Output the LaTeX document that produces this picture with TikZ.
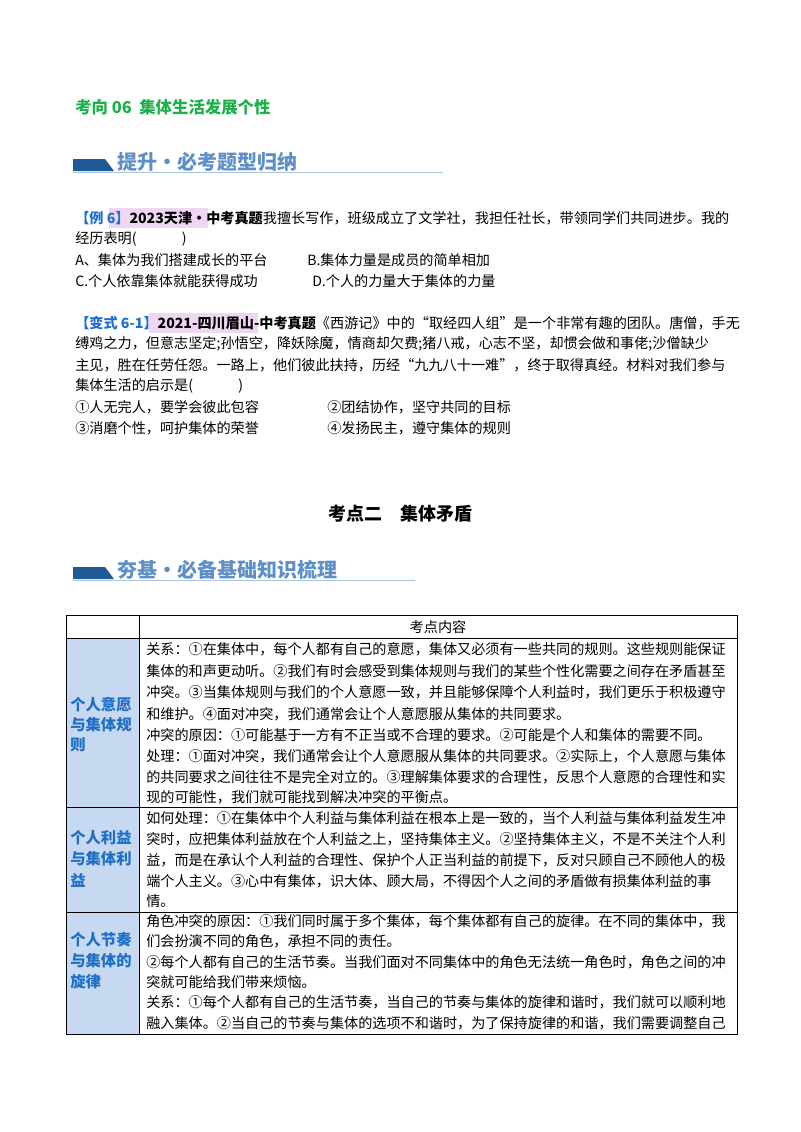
\documentclass[tikz,border=0pt]{standalone}
\usepackage{fontspec}
\setmainfont{Noto Sans CJK SC}
\usetikzlibrary{positioning}
\definecolor{titlegreen}{HTML}{1DB04B}
\definecolor{bannerdark}{HTML}{1F5A96}
\definecolor{bannertext}{HTML}{5E8FC6}
\definecolor{bannerline}{HTML}{A9C3DC}
\definecolor{tagblue}{HTML}{1E6FD0}
\definecolor{markpink}{HTML}{EFD6F3}
\definecolor{cellblue}{HTML}{C6D9F0}
\definecolor{labelblue}{HTML}{1F6FC6}
\newcommand{\tg}[1]{\textcolor{tagblue}{\textbf{#1}}}
\tikzset{
  txt/.style={anchor=west,inner sep=0pt,font=\fontsize{10.6}{12}\selectfont},
  lbl/.style={anchor=west,inner sep=0pt,labelblue,font=\fontsize{11.5}{12}\bfseries},
  banner/.style={anchor=west,inner sep=0pt,bannertext,font=\fontsize{15}{16}\bfseries}
}
\begin{document}
\begin{tikzpicture}[x=0.75pt,y=-0.75pt]
  \useasboundingbox[fill=white] (0,0) rectangle (800,1132);
  % heading
  \node[anchor=west,inner sep=0pt,titlegreen,font=\fontsize{12.3}{14}\bfseries] (head) at (75,107) {考向 06\ \ 集体生活发展个性};
  % banner 1
  \fill[bannerdark] (73,171) -- (73,159) -- (105,159) -- (114,171) -- cycle;
  \draw[bannerline,line width=1pt] (73,172.5) -- (443,172.5);
  \node[banner] (ban1) at (117,162) {提升·必考题型归纳};
  % example 6
  \fill[markpink] (109,208) rectangle (208,228);
  \node[txt] (e1) at (75,218) {\tg{【例 6】}\textbf{2023天津·中考真题}我擅长写作，班级成立了文学社，我担任社长，带领同学们共同进步。我的};
  \node[txt] (e2) at (75,239) {经历表明(\hspace{3.2em})};
  \node[txt] (e3) at (75,260) {A、集体为我们搭建成长的平台};
  \node[txt] (e4) at (307,260) {B.集体力量是成员的简单相加};
  \node[txt] (e5) at (75,281) {C.个人依靠集体就能获得成功};
  \node[txt] (e6) at (312,281) {D.个人的力量大于集体的力量};
  % variant 6-1
  \fill[markpink] (149,313) rectangle (258,333);
  \node[txt] (v1) at (75,323) {\tg{【变式 6-1】}\textbf{2021-四川眉山-中考真题}《西游记》中的“取经四人组”是一个非常有趣的团队。唐僧，手无};
  \node[txt] (v2) at (75,344) {缚鸡之力，但意志坚定;孙悟空，降妖除魔，情商却欠费;猪八戒，心志不坚，却惯会做和事佬;沙僧缺少};
  \node[txt] (v3) at (75,365) {主见，胜在任劳任怨。一路上，他们彼此扶持，历经“九九八十一难”，终于取得真经。材料对我们参与};
  \node[txt] (v4) at (75,386) {集体生活的启示是(\hspace{3.2em})};
  \node[txt] (v5) at (75,407) {①人无完人，要学会彼此包容};
  \node[txt] (v6) at (327,407) {②团结协作，坚守共同的目标};
  \node[txt] (v7) at (75,428) {③消磨个性，呵护集体的荣誉};
  \node[txt] (v8) at (327,428) {④发扬民主，遵守集体的规则};
  % section title
  \node[inner sep=0pt,font=\fontsize{13.5}{15}\bfseries] (sec) at (400,514) {考点二\quad 集体矛盾};
  % banner 2
  \fill[bannerdark] (73,579) -- (73,567) -- (105,567) -- (114,579) -- cycle;
  \draw[bannerline,line width=1pt] (73,580.5) -- (415,580.5);
  \node[banner] (ban2) at (117,570) {夯基·必备基础知识梳理};
  % table
  \fill[cellblue] (66,638) rectangle (139,1034);
  \draw[line width=0.6pt] (66,615) rectangle (737,1034);
  \draw[line width=0.6pt] (139,615) -- (139,1034);
  \foreach \ry in {638,807,912} \draw[line width=0.6pt] (66,\ry) -- (737,\ry);
  \node[inner sep=0pt,font=\fontsize{10.6}{12}\selectfont] (colhead) at (438,627) {考点内容};
  \node[lbl] (r1a) at (70,705) {个人意愿};
  \node[lbl] (r1b) at (70,725) {与集体规};
  \node[lbl] (r1c) at (70,745) {则};
  \node[lbl] (r2a) at (70,838) {个人利益};
  \node[lbl] (r2b) at (70,859) {与集体利};
  \node[lbl] (r2c) at (70,880) {益};
  \node[lbl] (r3a) at (70,940) {个人节奏};
  \node[lbl] (r3b) at (70,961) {与集体的};
  \node[lbl] (r3c) at (70,982) {旋律};
  \node[txt] (a1) at (146,649) {关系：①在集体中，每个人都有自己的意愿，集体又必须有一些共同的规则。这些规则能保证};
  \node[txt] (a2) at (146,671) {集体的和声更动听。②我们有时会感受到集体规则与我们的某些个性化需要之间存在矛盾甚至};
  \node[txt] (a3) at (146,692) {冲突。③当集体规则与我们的个人意愿一致，并且能够保障个人利益时，我们更乐于积极遵守};
  \node[txt] (a4) at (146,714) {和维护。④面对冲突，我们通常会让个人意愿服从集体的共同要求。};
  \node[txt] (a5) at (146,735) {冲突的原因：①可能基于一方有不正当或不合理的要求。②可能是个人和集体的需要不同。};
  \node[txt] (a6) at (146,756) {处理：①面对冲突，我们通常会让个人意愿服从集体的共同要求。②实际上，个人意愿与集体};
  \node[txt] (a7) at (146,777) {的共同要求之间往往不是完全对立的。③理解集体要求的合理性，反思个人意愿的合理性和实};
  \node[txt] (a8) at (146,797) {现的可能性，我们就可能找到解决冲突的平衡点。};
  \node[txt] (b1) at (146,818) {如何处理：①在集体中个人利益与集体利益在根本上是一致的，当个人利益与集体利益发生冲};
  \node[txt] (b2) at (146,839) {突时，应把集体利益放在个人利益之上，坚持集体主义。②坚持集体主义，不是不关注个人利};
  \node[txt] (b3) at (146,860) {益，而是在承认个人利益的合理性、保护个人正当利益的前提下，反对只顾自己不顾他人的极};
  \node[txt] (b4) at (146,881) {端个人主义。③心中有集体，识大体、顾大局，不得因个人之间的矛盾做有损集体利益的事};
  \node[txt] (b5) at (146,901) {情。};
  \node[txt] (c1) at (146,921) {角色冲突的原因：①我们同时属于多个集体，每个集体都有自己的旋律。在不同的集体中，我};
  \node[txt] (c2) at (146,941) {们会扮演不同的角色，承担不同的责任。};
  \node[txt] (c3) at (146,962) {②每个人都有自己的生活节奏。当我们面对不同集体中的角色无法统一角色时，角色之间的冲};
  \node[txt] (c4) at (146,982) {突就可能给我们带来烦恼。};
  \node[txt] (c5) at (146,1002) {关系：①每个人都有自己的生活节奏，当自己的节奏与集体的旋律和谐时，我们就可以顺利地};
  \node[txt] (c6) at (146,1023) {融入集体。②当自己的节奏与集体的选项不和谐时，为了保持旋律的和谐，我们需要调整自己};
\end{tikzpicture}
\end{document}
